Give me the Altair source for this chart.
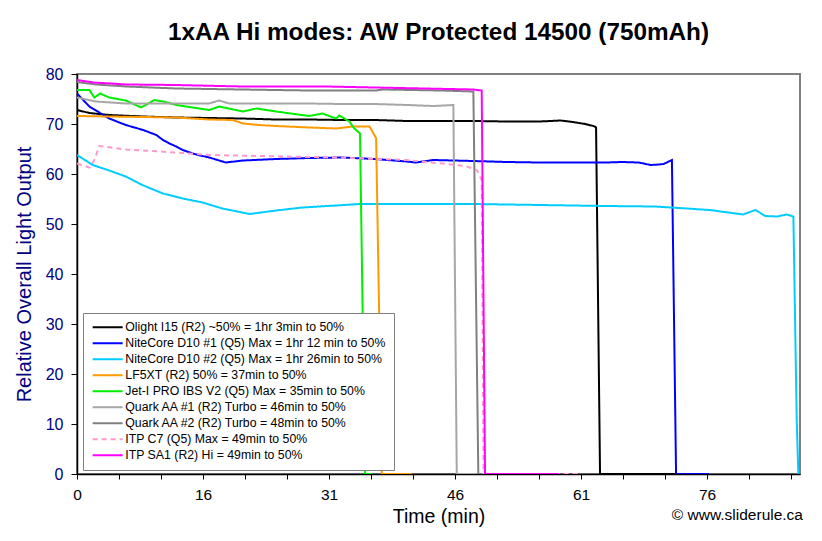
import altair as alt
import pandas as pd

# ---------------- data ----------------
SERIES = [
    "Olight I15 (R2) ~50% = 1hr 3min to 50%",
    "NiteCore D10 #1 (Q5) Max = 1hr 12 min to 50%",
    "NiteCore D10 #2 (Q5) Max = 1hr 26min to 50%",
    "LF5XT (R2) 50% = 37min to 50%",
    "Jet-I PRO IBS V2 (Q5) Max = 35min to 50%",
    "Quark AA #1 (R2) Turbo = 46min to 50%",
    "Quark AA #2 (R2) Turbo = 48min to 50%",
    "ITP C7 (Q5) Max = 49min to 50%",
    "ITP SA1 (R2) Hi = 49min to 50%",
]

OLIGHT_T = [0, 1.5, 3.9, 8, 12, 16, 20, 24, 28, 32, 36, 40, 44, 48, 52, 56, 58.5, 60, 61.5, 62.5, 62.82, 63.3, 72.4]
OLIGHT_V = [72.8, 72.2, 71.8, 71.5, 71.3, 71.2, 71.1, 70.9, 70.9, 70.8, 70.8, 70.6, 70.6, 70.6, 70.5, 70.5, 70.7, 70.4, 70.0, 69.6, 69.3, 0, 0]

D10A_T = [0, 1.5, 3.9, 5.9, 8.0, 9.6, 10.4, 11.2, 12.0, 12.8, 14.0, 15.2, 16.0, 18.0, 20.1, 24.1, 28, 32, 36, 39.9, 41, 43.1, 48, 52, 56, 60, 64, 66, 68, 69.4, 70.4, 71.0, 72.0, 72.5, 76.5]
D10A_V = [76.1, 73.5, 71.1, 69.8, 68.8, 67.8, 66.8, 66.1, 65.5, 64.8, 64.1, 63.6, 63.3, 62.3, 62.7, 63.0, 63.2, 63.3, 63.0, 62.5, 62.3, 62.8, 62.6, 62.4, 62.3, 62.3, 62.3, 62.4, 62.3, 61.8, 61.9, 62.0, 62.8, 0, 0]

D10B_T = [0, 1.9, 3.9, 5.9, 7.9, 10.4, 12.8, 15.2, 17.6, 20.9, 24.1, 27.3, 31.3, 34.3, 40, 48, 56, 64, 70, 76.6, 80.6, 82.1, 83.3, 84.7, 85.9, 86.7, 87.1, 87.3]
D10B_V = [63.8, 61.8, 60.7, 59.5, 57.8, 56.1, 55.1, 54.3, 53.1, 52.0, 52.7, 53.3, 53.7, 54.0, 54.0, 54.0, 53.8, 53.6, 53.5, 52.8, 51.9, 52.8, 51.6, 51.5, 51.9, 51.5, 11.0, 0]

LF5XT_T = [0, 4, 8, 12, 16, 18.85, 20.1, 22, 24.1, 28.1, 31.35, 33.4, 35.4, 36.2, 36.9, 40.5]
LF5XT_V = [71.6, 71.5, 71.4, 71.3, 70.9, 70.8, 70.1, 69.8, 69.6, 69.3, 69.1, 69.5, 69.5, 67.2, 0, 0]

JETI_T = [0, 1.5, 2.1, 2.8, 3.9, 5.9, 7.75, 9.36, 10.4, 12.0, 16.0, 17.2, 20.1, 21.7, 24.1, 28.1, 29.7, 31.35, 31.75, 32.96, 33.56, 34.25, 34.86, 35.67]
JETI_V = [76.8, 76.8, 75.3, 76.1, 75.3, 74.7, 73.3, 74.8, 74.5, 73.8, 72.8, 73.5, 72.5, 73.1, 72.5, 71.6, 72.1, 71.1, 71.7, 70.5, 69.1, 68.1, 0, 0]

QUARK1_T = [0, 2.3, 5.9, 10, 16.0, 17.2, 18.4, 24, 28, 32, 36, 40, 43.1, 45.55, 45.96, 48.4]
QUARK1_V = [75.3, 74.5, 74.1, 74.1, 74.1, 74.7, 74.1, 74.1, 74.1, 74.0, 74.0, 73.8, 73.6, 73.8, 0, 0]

QUARK2_T = [0, 2.3, 6, 12, 20, 28, 36.2, 37, 44, 47.97, 48.57, 49.4]
QUARK2_V = [78.4, 77.9, 77.5, 77.1, 76.9, 76.7, 76.7, 76.9, 76.7, 76.5, 0, 0]

C7_T = [0, 1.5, 2.1, 2.7, 5.9, 12.0, 16.0, 22, 31.3, 39.9, 45.96, 47.17, 48.38, 48.98, 49.2, 60.9]
C7_V = [62.1, 61.3, 62.8, 65.6, 64.9, 64.3, 63.8, 63.6, 63.3, 62.8, 61.8, 61.5, 60.8, 58.8, 0, 0]

SA1_T = [0, 2, 6, 12, 20, 30.2, 36, 42, 47.97, 48.98, 49.38, 58.3]
SA1_V = [78.8, 78.3, 77.9, 77.8, 77.5, 77.5, 77.3, 77.1, 76.9, 76.7, 0, 0]

TIMES = [OLIGHT_T, D10A_T, D10B_T, LF5XT_T, JETI_T, QUARK1_T, QUARK2_T, C7_T, SA1_T]
VALUES = [OLIGHT_V, D10A_V, D10B_V, LF5XT_V, JETI_V, QUARK1_V, QUARK2_V, C7_V, SA1_V]

X_TICK_LABELS = ["0", "16", "31", "46", "61", "76"]
X_LABEL_STEP = 15.25      # minutes between labelled ticks
X_TICKS_PER_LABEL = 3
X_MAX = 87.5
Y_TICKS = [0, 10, 20, 30, 40, 50, 60, 70, 80]
CREDIT = ["© www.sliderule.ca"]

# ---------------- styles ----------------
COLORS = ["#000000", "#0000FF", "#00CCFF", "#FF9900", "#00EE00",
          "#A6A6A6", "#808080", "#FF99CC", "#FF00FF"]
DASHES = [[1, 0], [1, 0], [1, 0], [1, 0], [1, 0], [1, 0], [1, 0], [5, 4], [1, 0]]
FONT = "Liberation Sans"
NAVY = "#000080"

rows = []
for si, (name, ts, vs) in enumerate(zip(SERIES, TIMES, VALUES)):
    for i, (t, v) in enumerate(zip(ts, vs)):
        rows.append({"series": name, "s": si, "i": i, "t": t, "v": v})
df = pd.DataFrame(rows)

minor = X_LABEL_STEP / X_TICKS_PER_LABEL
tick_vals = []
k = 0
while k * minor <= X_MAX + 1e-9:
    tick_vals.append(round(k * minor, 6))
    k += 1
label_arr = "[" + ",".join("'%s'" % s for s in X_TICK_LABELS) + "]"
label_expr = (f"(round(datum.value/{minor})%{X_TICKS_PER_LABEL}==0) ? "
              f"({label_arr}[round(datum.value/{X_LABEL_STEP})] || '') : ''")

lines = alt.Chart(df).mark_line(strokeWidth=2, clip=True).encode(
    x=alt.X("t:Q",
            scale=alt.Scale(domain=[0, X_MAX], nice=False, zero=False),
            axis=alt.Axis(values=tick_vals, labelExpr=label_expr, grid=False,
                          tickSize=5, tickColor="black", domainColor="black",
                          domainWidth=1.5, tickWidth=1,
                          labelFontSize=15.5, labelFont=FONT, labelColor="black",
                          labelPadding=8, labelFlush=False, labelOverlap=False,
                          titleFontSize=19.5, titleFont=FONT, titleFontWeight="normal",
                          titleColor="black", titleX=361.5, titleY=48,
                          titleBaseline="alphabetic", titleAnchor="middle"),
            title="Time (min)"),
    y=alt.Y("v:Q",
            scale=alt.Scale(domain=[0, 80], nice=False),
            axis=alt.Axis(values=Y_TICKS, grid=False, tickSize=6, tickColor="black",
                          domainColor="black", domainWidth=1.5,
                          labelFontSize=16, labelFont=FONT, labelColor=NAVY,
                          labelPadding=8,
                          titleFontSize=20, titleFont=FONT, titleFontWeight="normal",
                          titleColor=NAVY, titleX=-46.5, titleY=200, titleAngle=-90,
                          titleBaseline="alphabetic", titleAlign="center"),
            title="Relative Overall Light Output"),
    color=alt.Color("series:N", scale=alt.Scale(domain=SERIES, range=COLORS),
                    legend=alt.Legend(title=None)),
    strokeDash=alt.StrokeDash("series:N", scale=alt.Scale(domain=SERIES, range=DASHES),
                              legend=alt.Legend(title=None)),
    order=alt.Order("i:Q"),
)

credit = alt.Chart(pd.DataFrame({"txt": CREDIT})).mark_text(
    align="right", baseline="alphabetic", fontSize=15.5, font=FONT, color="black"
).encode(text="txt:N", x=alt.value(726), y=alt.value(446))

chart = alt.layer(lines, credit).properties(
    width=723, height=400,
    title=alt.Title("1xAA Hi modes: AW Protected 14500 (750mAh)", fontSize=24.3,
                    font=FONT, fontWeight="bold", color="black", anchor="middle",
                    baseline="alphabetic", offset=2),
    autosize=alt.AutoSizeParams(type="none"),
    padding={"left": 69, "top": 66, "right": 12, "bottom": 56},
).configure_view(
    stroke="#808080", strokeWidth=2
).configure_legend(
    orient="none", legendX=6, legendY=239,
    fillColor="white", strokeColor="#808080", padding=8,
    labelFont=FONT, labelFontSize=12.3, labelColor="black", labelLimit=0,
    symbolType="M-3,0H3", symbolSize=100, symbolStrokeWidth=2,
    rowPadding=3, labelOffset=11.5, symbolOffset=10.5,
)

chart.save("out.html", embed_options={"renderer": "svg", "actions": False})
